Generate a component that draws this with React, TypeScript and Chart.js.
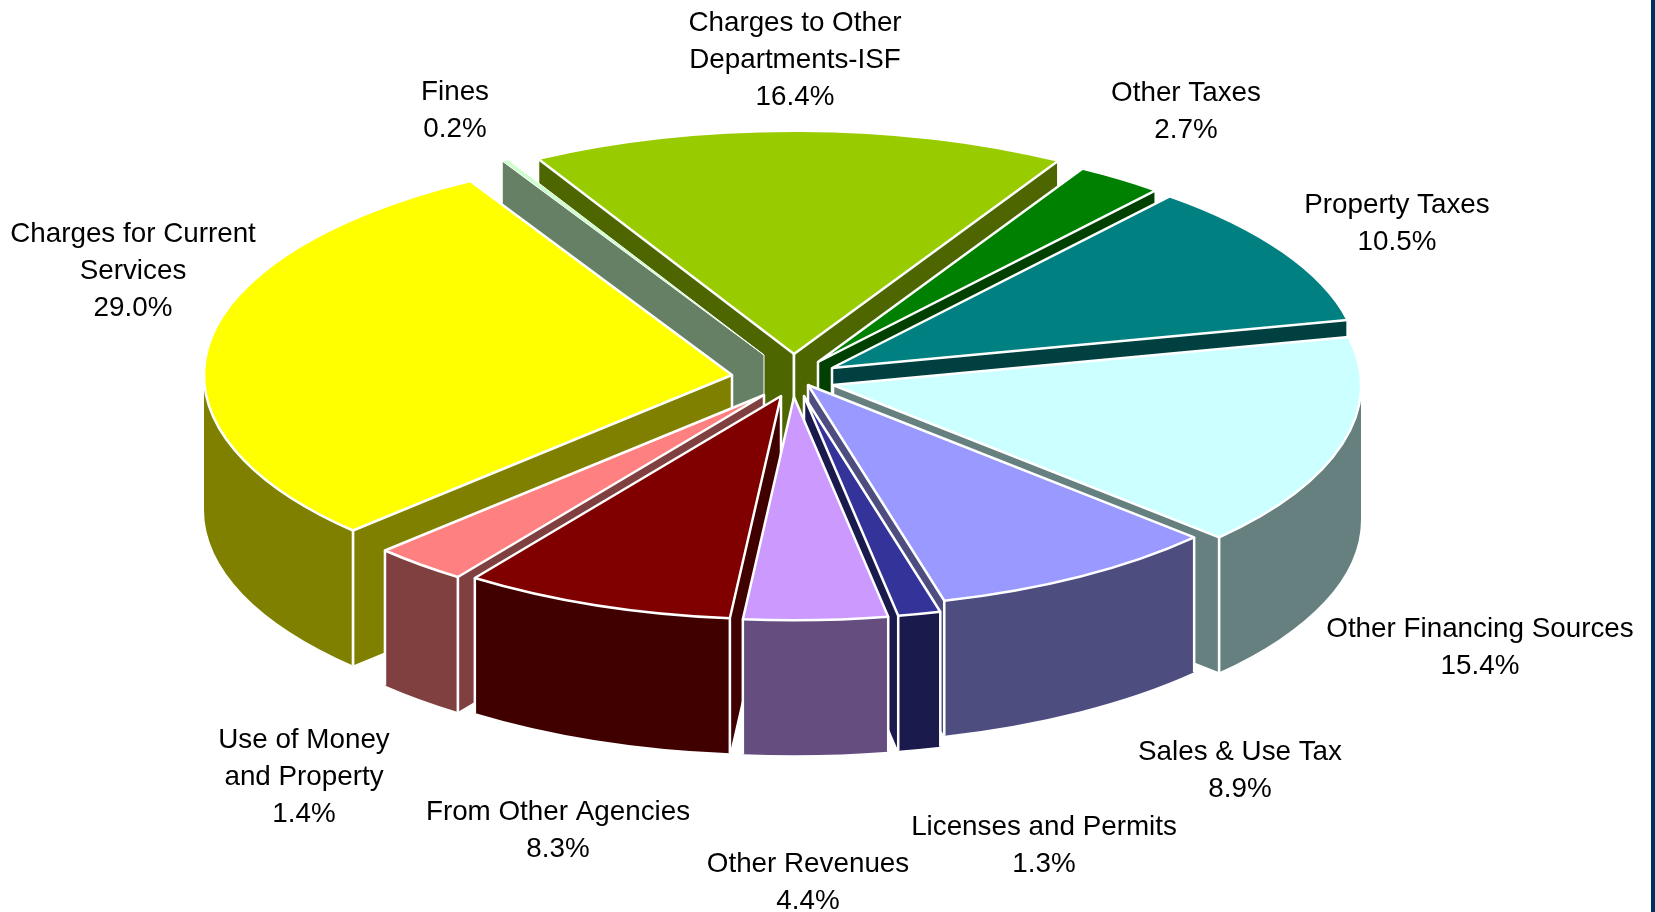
import React, { useEffect, useRef } from "react";
import { Chart, registerables } from "chart.js";

Chart.register(...registerables);

const categories = [
  ["Charges to Other", "Departments-ISF"],
  ["Other Taxes"],
  ["Property Taxes"],
  ["Other Financing Sources"],
  ["Sales & Use Tax"],
  ["Licenses and Permits"],
  ["Other Revenues"],
  ["From Other Agencies"],
  ["Use of Money", "and Property"],
  ["Charges for Current", "Services"],
  ["Fines"],
];
// The percentages as printed beside each slice.
const printedShares = [16.4, 2.7, 10.5, 15.4, 8.9, 1.3, 4.4, 8.3, 1.4, 29.0, 0.2];
// The slice sizes as drawn: the printed figures add to 98.5, and the
// "Use of Money and Property" wedge is visibly about 2.9% wide in the picture.
const wedgeShares = [16.4, 2.7, 10.5, 15.4, 8.9, 1.3, 4.4, 8.3, 2.9, 29.0, 0.2];
const sliceColors = [
  "#99CC00", "#008000", "#008080", "#CCFFFF", "#9999FF", "#333399",
  "#CC99FF", "#800000", "#FF8080", "#FFFF00", "#CCFFCC",
];
const wallColors = [
  "#4D6600", "#004000", "#004040", "#668080", "#4D4D80", "#1A1A4D",
  "#664D80", "#400000", "#804040", "#808000", "#668066",
];
// How far each slice is pulled out of the pie, on the page (explosion vector).
const slicePull: [number, number][] = [
  [4, -21], [28, -13], [42, -7], [43, 10], [18, 10], [14, 21],
  [4, 22], [-9, 21], [-26, 20], [-58, 0], [-26, -20],
];
// Centre x and first-line centre y of each label, in page pixels.
const labelAnchors: [number, number][] = [
  [795, 23], [1186, 93], [1397, 205], [1480, 629], [1240, 752], [1044, 827],
  [808, 864], [558, 812], [304, 740], [133, 234], [455, 92],
];

const CX = 790;
const CY = 375;
const RADIUS = 528;
const SQUASH = 0.423;
const DEPTH = 135;
const LINE = 37;
const STROKE = 2.5;
const FONT = '27.8px "Liberation Sans", Arial, sans-serif';

const piePlugin = {
  id: "tiltedPie",
  beforeDatasetDraw(chart: any) {
    const ctx: CanvasRenderingContext2D = chart.ctx;
    const arcs: any[] = chart.getDatasetMeta(0).data;
    const order = arcs
      .map((arc, i) => ({ arc, i }))
      .sort((p, q) => {
        const a = p.arc.getProps(["startAngle", "endAngle"]);
        const b = q.arc.getProps(["startAngle", "endAngle"]);
        return (
          Math.sin((a.startAngle + a.endAngle) / 2) -
          Math.sin((b.startAngle + b.endAngle) / 2)
        );
      });

    for (const { arc, i } of order) {
      const { x, y, startAngle: a1, endAngle: a2, outerRadius: r } = arc.getProps([
        "x", "y", "startAngle", "endAngle", "outerRadius",
      ]);
      const tx = CX + slicePull[i][0];
      const ty = CY + slicePull[i][1];
      const rim = (t: number): [number, number] => [
        tx + Math.cos(t) * r,
        ty + Math.sin(t) * r * SQUASH,
      ];
      // A hairline wedge would vanish under the full white outline.
      const outline = a2 - a1 < 0.03 ? 1 : STROKE;

      ctx.save();
      ctx.lineWidth = outline;
      ctx.lineJoin = "round";
      ctx.strokeStyle = "#FFFFFF";
      ctx.fillStyle = wallColors[i];

      const cutFace = (t: number) => {
        const [px, py] = rim(t);
        ctx.beginPath();
        ctx.moveTo(tx, ty);
        ctx.lineTo(px, py);
        ctx.lineTo(px, py + DEPTH);
        ctx.lineTo(tx, ty + DEPTH);
        ctx.closePath();
        ctx.fill();
        ctx.beginPath();
        ctx.moveTo(px, py);
        ctx.lineTo(px, py + DEPTH);
        ctx.moveTo(tx, ty);
        ctx.lineTo(tx, ty + DEPTH);
        ctx.stroke();
      };
      if (Math.cos(a1) < 0) cutFace(a1);
      if (Math.cos(a2) > 0) cutFace(a2);

      for (let k = -1; k <= 2; k++) {
        const lo = Math.max(a1, k * 2 * Math.PI);
        const hi = Math.min(a2, k * 2 * Math.PI + Math.PI);
        if (hi <= lo) continue;
        ctx.beginPath();
        ctx.ellipse(tx, ty, r, r * SQUASH, 0, lo, hi);
        ctx.ellipse(tx, ty + DEPTH, r, r * SQUASH, 0, hi, lo, true);
        ctx.closePath();
        ctx.fill();
        const [lx, ly] = rim(lo);
        const [hx, hy] = rim(hi);
        ctx.beginPath();
        if (lo === a1) {
          ctx.moveTo(lx, ly);
          ctx.lineTo(lx, ly + DEPTH);
        }
        if (hi === a2) {
          ctx.moveTo(hx, hy);
          ctx.lineTo(hx, hy + DEPTH);
        }
        ctx.stroke();
      }
      ctx.restore();

      // The top face is the library's own arc element, tilted and pulled out.
      ctx.save();
      ctx.translate(tx, ty);
      ctx.scale(1, SQUASH);
      ctx.translate(-x, -y);
      arc.draw(ctx);
      ctx.restore();

      ctx.save();
      ctx.lineWidth = outline;
      ctx.lineJoin = "round";
      ctx.strokeStyle = "#FFFFFF";
      ctx.beginPath();
      ctx.moveTo(tx, ty);
      ctx.ellipse(tx, ty, r, r * SQUASH, 0, a1, a2);
      ctx.closePath();
      ctx.stroke();
      ctx.restore();
    }
    return false;
  },
  afterDraw(chart: any) {
    const ctx: CanvasRenderingContext2D = chart.ctx;
    ctx.save();
    ctx.font = FONT;
    ctx.fillStyle = "#000000";
    ctx.textAlign = "center";
    ctx.textBaseline = "middle";
    categories.forEach((lines, i) => {
      const [lx, ly] = labelAnchors[i];
      [...lines, `${printedShares[i].toFixed(1)}%`].forEach((text, n) => {
        ctx.fillText(text, lx, ly + n * LINE);
      });
    });
    ctx.restore();
  },
};

export default function App() {
  const ref = useRef<HTMLCanvasElement>(null);
  useEffect(() => {
    if (!ref.current) return;
    const chart = new Chart(ref.current, {
      type: "pie",
      data: {
        labels: categories.map((c) => c.join(" ")),
        datasets: [
          {
            data: wedgeShares,
            backgroundColor: sliceColors,
            borderWidth: 0,
          },
        ],
      },
      options: {
        responsive: false,
        animation: false,
        rotation: -29,
        radius: RADIUS,
        plugins: { legend: { display: false }, tooltip: { enabled: false } },
      },
      plugins: [piePlugin],
    } as any);
    return () => chart.destroy();
  }, []);
  return (
    <div style={{ position: "fixed", inset: 0, background: "#FFFFFF", overflow: "hidden" }}>
      <canvas
        ref={ref}
        width={1655}
        height={912}
        style={{ position: "absolute", left: 0, top: 0, display: "block" }}
      />
      <div
        style={{
          position: "absolute",
          left: 1651,
          top: 0,
          width: 4,
          height: 912,
          background: "#003060",
        }}
      />
    </div>
  );
}
